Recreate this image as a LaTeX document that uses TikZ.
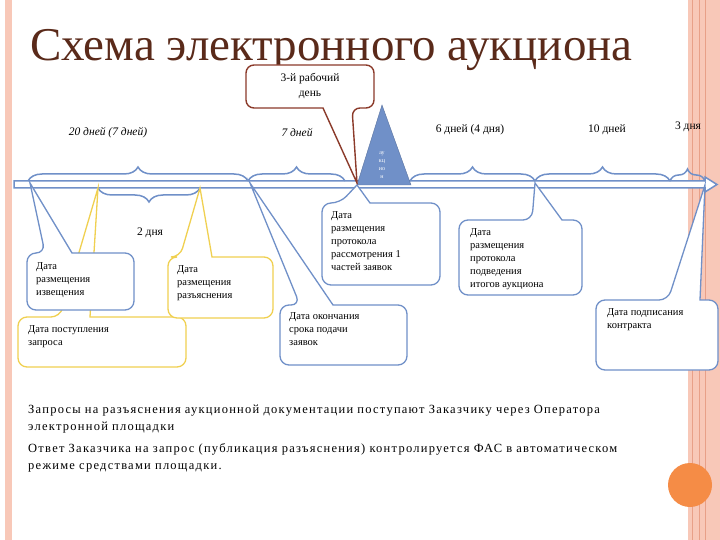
\documentclass[tikz,border=0pt]{standalone}
\usepackage{fontspec}
\setmainfont{Liberation Serif}
\newfontfamily\widefont[LetterSpace=10]{Liberation Serif}
\usetikzlibrary{decorations.pathreplacing}
\definecolor{tl}{HTML}{7090C8}
\definecolor{yl}{HTML}{F0D050}
\definecolor{br}{HTML}{8B3A2A}
\definecolor{ttl}{HTML}{5A2A1A}
\definecolor{pk}{HTML}{F8C8B8}
\definecolor{pkd}{HTML}{E8A088}
\definecolor{org}{HTML}{F58C46}
\newcommand\calltop[9]{\draw[#1,line width=1.3pt,fill=white,rounded corners=9pt]
 (#2,#3) -- (#6,#3) [sharp corners] -- (#8,#9) -- (#7,#3) [rounded corners=9pt] -- (#4,#3) -- (#4,#5) -- (#2,#5) -- cycle;}
\begin{document}
\begin{tikzpicture}[x=1pt,y=-1pt,
  brc/.style={draw=tl,line width=1.5pt,decorate,decoration={brace,amplitude=14pt}},
  lbl/.style={font=\fontsize{11.5}{13}\selectfont},
  box/.style={anchor=north west,align=left,font=\fontsize{10.5}{13}\selectfont,inner sep=0pt}]
\useasboundingbox (0,0) rectangle (720,540);
\fill[white] (0,0) rectangle (720,540);
% borders
\fill[pk] (5,0) rectangle (12,540);
\fill[pk] (688,0) rectangle (720,540);
\draw[pkd,line width=0.8pt] (692,0)--(692,540) (699,0)--(699,540) (705,0)--(705,540);
\fill[org] (690,485) circle (22);
% title
\node[anchor=west,text=ttl,font=\fontsize{47}{50}\selectfont,inner sep=0pt] (title) at (30,50) {Схема электронного аукциона};
% timeline
\draw[tl,line width=1.5pt,fill=white] (14,181) -- (705,181) -- (705,177) -- (717,184.5) -- (705,192) -- (705,188) -- (14,188) -- cycle;
% braces
\draw[brc] (28,181) -- (248,181);
\draw[brc] (248,181) -- (345,181);
\draw[brc] (410,181) -- (535,181);
\draw[brc] (535,181) -- (670,181);
\draw[brc,decoration={amplitude=12pt}] (670,181) -- (705,181);
\draw[brc] (200,188) -- (98,188);
\node[lbl,font=\itshape\fontsize{11.5}{13}\selectfont] (l20) at (108,133) {20 дней (7 дней)};
\node[lbl,font=\itshape\fontsize{11.5}{13}\selectfont] (l7) at (297,132) {7 дней};
\node[lbl] (l6) at (470,130) {6 дней (4 дня)};
\node[lbl] (l10) at (607,130) {10 дней};
\node[lbl] (l3) at (688,127) {3 дня};
\node[lbl] (l2) at (150,233) {2 дня};
% auction triangle
\draw[tl!80!black,fill=tl] (357,185) -- (382,105) -- (411,185) -- cycle;
\node[text=white,font=\fontsize{6}{8}\selectfont,align=center,inner sep=0pt] (auk) at (382,165) {ау\\кц\\ио\\н};
% 3rd day callout
\draw[br,line width=1.4pt,fill=white,rounded corners=8pt]
 (246,65) -- (374,65) -- (374,108) -- (352,108) [sharp corners] -- (357,183) -- (323,108) [rounded corners=8pt] -- (246,108) -- cycle;
\node[font=\fontsize{11.5}{15}\selectfont,align=center,inner sep=0pt] (d3) at (310,86) {3-й рабочий\\день};
% yellow callouts
\calltop{yl}{18}{317}{186}{367}{60}{90}{98}{188}
\node[box] (zap) at (28,325) {Дата поступления\\запроса};
\calltop{yl}{168}{257}{273}{318}{180}{212}{200}{188}
\node[box] (raz) at (177,265) {Дата\\размещения\\разъяснения};
% blue callouts
\calltop{tl}{27}{253}{134}{310}{45}{72}{30}{183}
\node[box] (izv) at (36,262) {Дата\\размещения\\извещения};
\calltop{tl}{280}{305}{407}{365}{300}{333}{250}{183}
\node[box] (okon) at (289,312) {Дата окончания\\срока подачи\\заявок};
\calltop{tl}{322}{203}{440}{285}{340}{370}{357}{185}
\node[box] (prot1) at (331,211) {Дата\\размещения\\протокола\\рассмотрения 1\\частей заявок};
\calltop{tl}{459}{220}{582}{295}{532}{562}{535}{183}
\node[box] (itog) at (470,228) {Дата\\размещения\\протокола\\подведения\\итогов аукциона};
\calltop{tl}{596}{300}{718}{370}{668}{700}{705}{185}
\node[box] (podp) at (607,308) {Дата подписания\\контракта};
% bottom text
\node[anchor=north west,align=left,inner sep=0pt,font=\widefont\fontsize{12.5}{17}\selectfont,text width=660pt] (t1) at (28,405) {Запросы на разъяснения аукционной документации поступают Заказчику через Оператора\\электронной площадки};
\node[anchor=north west,align=left,inner sep=0pt,font=\widefont\fontsize{12.5}{17}\selectfont,text width=660pt] (t2) at (28,443) {Ответ Заказчика на запрос (публикация разъяснения) контролируется ФАС в автоматическом\\режиме средствами площадки.};
\end{tikzpicture}
\end{document}
